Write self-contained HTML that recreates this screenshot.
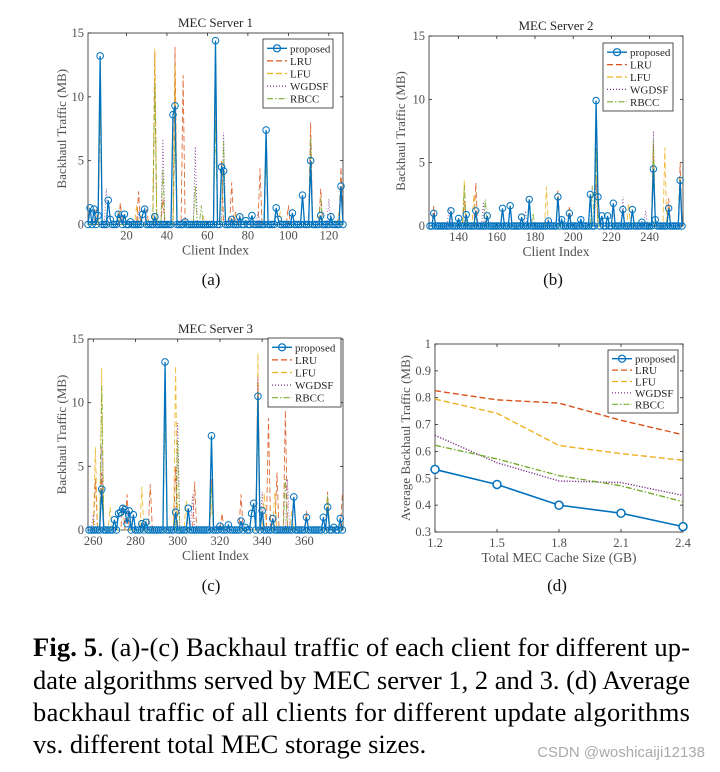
<!DOCTYPE html>
<html><head><meta charset="utf-8"><style>
html,body{margin:0;padding:0;background:#fff;}
svg{display:block;}
</style></head><body>
<svg id="fig" width="720" height="772" viewBox="0 0 720 772" xmlns="http://www.w3.org/2000/svg" font-family="'Liberation Serif', serif">
<text x="211" y="285" font-size="17" text-anchor="middle" fill="#111">(a)</text>
<text x="553" y="285" font-size="17" text-anchor="middle" fill="#111">(b)</text>
<text x="211" y="591" font-size="17" text-anchor="middle" fill="#111">(c)</text>
<text x="557" y="591" font-size="17" text-anchor="middle" fill="#111">(d)</text>
<g font-size="26.5" fill="#000">
<text x="33" y="656" textLength="657" lengthAdjust="spacing"><tspan font-weight="bold">Fig. 5</tspan>. (a)-(c) Backhaul traffic of each client for different up-</text>
<text x="33" y="689" textLength="657" lengthAdjust="spacing">date algorithms served by MEC server 1, 2 and 3. (d) Average</text>
<text x="33" y="721" textLength="657" lengthAdjust="spacing">backhaul traffic of all clients for different update algorithms</text>
<text x="33" y="753">vs. different total MEC storage sizes.</text>
</g>
<text x="705" y="757" font-size="15" text-anchor="end" fill="#aaa" font-family="'Liberation Sans', sans-serif">CSDN @woshicaiji12138</text>
</svg>
<script>
// ---- data: sparse spikes [clientIndex, MB] ----
const a_proposed = [[2,1.3],[4,1.2],[6,0.7],[7,13.2],[11,1.9],[12,0.4],[16,0.8],[17,0.5],[19,0.8],[22,0.2],[28,0.8],[29,1.2],[34,0.6],[43,8.6],[44,9.3],[49,0.2],[64,14.4],[67,4.5],[68,4.2],[72,0.4],[76,0.6],[79,0.3],[82,0.7],[89,7.4],[94,1.3],[95,0.4],[102,0.9],[107,2.3],[111,5.0],[116,0.7],[121,0.6],[126,3.0]];
const a_lru = [[5,1.2],[7,10],[17,1.7],[26,2.6],[30,1.2],[34,13.5],[38,2],[44,13.9],[48,11.7],[64,11.5],[67,5],[72,3.3],[74,1],[86,4.4],[89,6],[100,1.5],[111,8],[116,2.8],[126,4.5]];
const a_lfu = [[7,10],[16,1],[25,1.5],[34,13.8],[44,12.5],[58,0.6],[64,11.7],[74,0.8],[89,6.2],[96,1],[125,1]];
const a_wgdsf = [[10,2.8],[26,1],[38,6.7],[54,6.1],[68,7.2],[85,1],[111,6.5],[120,2]];
const a_rbcc = [[7,10.2],[34,11],[38,4.2],[44,7],[54,3],[57,1.5],[64,8],[68,6.5],[89,5.5],[111,6.8],[116,2]];

const b_proposed = [[127,1.0],[136,1.2],[140,0.6],[144,0.9],[149,1.2],[155,0.8],[163,1.4],[167,1.6],[173,0.7],[177,2.1],[187,0.4],[192,2.3],[194,0.5],[198,1.0],[204,0.5],[209,2.5],[212,9.9],[213,2.3],[215,0.8],[218,0.8],[221,1.8],[226,1.3],[231,1.3],[236,0.3],[242,4.5],[243,0.5],[250,1.4],[256,3.6]];
const b_lru = [[127,1.6],[143,2],[149,3.4],[192,2.8],[198,1.5],[212,7],[221,1.5],[242,6.5],[250,2.2],[256,5]];
const b_lfu = [[143,3.6],[148,2.5],[186,3.1],[212,4],[229,1.8],[242,6],[248,6.2],[256,4]];
const b_wgdsf = [[135,1.5],[153,1.9],[175,1.2],[212,3.3],[226,2.3],[238,1.2],[242,7.5],[256,3]];
const b_rbcc = [[143,3.2],[154,2.1],[179,1],[210,3.2],[212,6],[242,6.8],[256,3.5]];

const c_proposed = [[264,3.2],[270,0.8],[272,1.3],[273,1.4],[274,1.7],[275,1.6],[276,0.5],[277,1.5],[279,1.2],[283,0.5],[285,0.6],[294,13.2],[299,1.4],[305,1.7],[316,7.4],[320,0.3],[324,0.4],[330,0.7],[332,0.2],[335,1.3],[336,2.1],[338,10.5],[340,1.5],[345,0.9],[355,2.6],[361,1.0],[369,1.0],[371,1.8],[374,0.2],[377,0.9]];
const c_lru = [[261,4],[264,4.5],[274,2],[276,2.8],[287,3.6],[299,5],[308,3.8],[316,4],[321,1.3],[330,2.8],[338,11.5],[343,8.8],[347,4.5],[351,9.4],[361,1.5],[371,3],[378,2.8]];
const c_lfu = [[261,6.5],[264,12.7],[268,1.8],[283,3.4],[299,12.9],[304,2.3],[316,2],[338,13.9],[341,2.9],[346,3],[354,1.5],[371,2.5]];
const c_wgdsf = [[260,1.2],[264,6.6],[300,8.4],[307,2.8],[338,12],[340,3],[352,4]];
const c_rbcc = [[264,11.3],[294,9],[300,7],[316,3.5],[338,9.5],[351,4],[371,2.7]];

const d_sizes = [1.2,1.5,1.8,2.1,2.4];
const d_proposed = [0.533,0.477,0.400,0.370,0.320];
const d_lru = [0.826,0.792,0.780,0.716,0.662];
const d_lfu = [0.795,0.742,0.622,0.592,0.567];
const d_wgdsf = [0.660,0.558,0.490,0.484,0.436];
const d_rbcc = [0.623,0.572,0.510,0.472,0.413];

const abcYTicks = [0,5,10,15];
const aXTicks = [20,40,60,80,100,120];
const bXTicks = [140,160,180,200,220,240];
const cXTicks = [260,280,300,320,340,360];
const dYTicks = [0.3,0.4,0.5,0.6,0.7,0.8,0.9,1];
const dYLabels = ["0.3","0.4","0.5","0.6","0.7","0.8","0.9","1"];
const dXTicks = [1.2,1.5,1.8,2.1,2.4];
const legendNames = ["proposed","LRU","LFU","WGDSF","RBCC"];

// ---- styles ----
const NS = "http://www.w3.org/2000/svg";
const svg = document.getElementById("fig");
const COL = ["#0072BD","#D95319","#EDB120","#7E2F8E","#77AC30"];
const DASH = [null,"6,3","6,3","1,2","6,2,1.5,2"];
const KEYS = ["proposed","lru","lfu","wgdsf","rbcc"];

function mk(tag, attrs, parent){
  const e = document.createElementNS(NS, tag);
  for (const k in attrs) e.setAttribute(k, attrs[k]);
  (parent||svg).appendChild(e);
  return e;
}
function dense(sparse, lo, hi){
  const m = {}; sparse.forEach(p => m[p[0]] = p[1]);
  const out = [];
  for (let i = lo; i <= hi; i++) out.push([i, m[i] || 0]);
  return out;
}

function axes(g, P, xTicks, xLabels, yTicks, yLabels){
  const frame = mk("rect",{x:P.x0,y:P.y0,width:P.x1-P.x0,height:P.y1-P.y0,fill:"#fff",stroke:"#262626","stroke-width":0.8},g);
  
  
  xTicks.forEach((t,i) => {
    const x = P.sx(t);
    mk("line",{x1:x,x2:x,y1:P.y1,y2:P.y1-3,stroke:"#262626","stroke-width":0.8},g);
    mk("line",{x1:x,x2:x,y1:P.y0,y2:P.y0+3,stroke:"#262626","stroke-width":0.8},g);
    const tl = mk("text",{x:x,y:P.y1+15,"font-size":12.5,"text-anchor":"middle",fill:"#505050"},g);
    tl.textContent = xLabels[i];
    
    
  });
  yTicks.forEach((t,i) => {
    const y = P.sy(t);
    mk("line",{x1:P.x0,x2:P.x0+3,y1:y,y2:y,stroke:"#262626","stroke-width":0.8},g);
    mk("line",{x1:P.x1,x2:P.x1-3,y1:y,y2:y,stroke:"#262626","stroke-width":0.8},g);
    const tl = mk("text",{x:P.x0-4,y:y+4,"font-size":12.5,"text-anchor":"end",fill:"#505050"},g);
    tl.textContent = yLabels[i];
    
    
  });
}

function labels(g, P, title, xl, yl, ylx){
  if (title){
    const t = mk("text",{x:(P.x0+P.x1)/2,y:P.y0-6,"font-size":13,"text-anchor":"middle",fill:"#262626"},g);
    t.textContent = title;
    
    
  }
  const x = mk("text",{x:(P.x0+P.x1)/2,y:P.y1+30,"font-size":13.5,"text-anchor":"middle",fill:"#505050"},g);
  x.textContent = xl;
  
  
  const cy = (P.y0+P.y1)/2;
  const y = mk("text",{x:ylx,y:cy,"font-size":13,"text-anchor":"middle",fill:"#505050",transform:`rotate(-90 ${ylx} ${cy})`},g);
  y.textContent = yl;
  
  
}

function legend(g, L){
  const box = mk("rect",{x:L.x,y:L.y,width:L.w,height:L.h,fill:"#fff",stroke:"#262626","stroke-width":0.8},g);
  
  
  const step = (L.h-6)/5;
  legendNames.forEach((n,i) => {
    const yy = L.y + 3 + step*(i+0.5);
    const ln = mk("line",{x1:L.x+4,x2:L.x+24,y1:yy,y2:yy,stroke:COL[i],"stroke-width":i==0?1.4:1.2},g);
    if (DASH[i]) ln.setAttribute("stroke-dasharray",DASH[i]);
    
    
    if (i==0){
      const c = mk("circle",{cx:L.x+14,cy:yy,r:3.5,fill:"none",stroke:COL[0],"stroke-width":1.2},g);
      
      
    }
    const t = mk("text",{x:L.x+27,y:yy+4,"font-size":11,fill:"#262626"},g);
    t.textContent = n;
    
    
  });
}

function spikePanel(name, P, lo, hi, series, xTicks, title, ylx, L, mr){
  const g = mk("g",{});
  
  
  axes(g, P, xTicks, xTicks.map(String), abcYTicks, abcYTicks.map(String));
  const order = [1,2,3,4,0];
  order.forEach(si => {
    const pts = dense(series[si], lo, hi);
    const d = pts.map((p,k) => (k?"L":"M")+P.sx(p[0]).toFixed(2)+","+P.sy(p[1]).toFixed(2)).join("");
    const path = mk("path",{d:d,fill:"none",stroke:COL[si],"stroke-width":si==0?1.3:0.9,"stroke-opacity":si==0?1:0.85},g);
    if (DASH[si]) path.setAttribute("stroke-dasharray",DASH[si]);
    
    
    if (si==0){
      pts.forEach(p => {
        const c = mk("circle",{cx:P.sx(p[0]),cy:P.sy(p[1]),r:mr,fill:"none",stroke:COL[0],"stroke-width":1},g);
        
        
      });
    }
  });
  labels(g, P, title, "Client Index", "Backhaul Traffic (MB)", ylx);
  legend(g, L);
}

function mkP(x0,x1,y0,y1,xd0,xd1,yd0,yd1){
  return {x0,x1,y0,y1,
    sx:v=>x0+(v-xd0)/(xd1-xd0)*(x1-x0),
    sy:v=>y1-(v-yd0)/(yd1-yd0)*(y1-y0)};
}

spikePanel("panel-a", mkP(88,343,33,224.5,1,127,0,15), 1,127,
  [a_proposed,a_lru,a_lfu,a_wgdsf,a_rbcc], aXTicks, "MEC Server 1", 66, {x:263,y:39,w:70,h:69}, 3.3);
spikePanel("panel-b", mkP(429,683,36,226,124.5,257.5,0,15), 125,257,
  [b_proposed,b_lru,b_lfu,b_wgdsf,b_rbcc], bXTicks, "MEC Server 2", 405, {x:603,y:43,w:70,h:68}, 3.2);
spikePanel("panel-c", mkP(88,343,339,530,257.5,378.3,0,15), 258,378,
  [c_proposed,c_lru,c_lfu,c_wgdsf,c_rbcc], cXTicks, "MEC Server 3", 66, {x:268,y:338,w:73,h:69}, 3.3);

// panel d
(function(){
  const P = mkP(435,683,344,532,1.2,2.4,0.3,1);
  const g = mk("g",{});
  
  
  axes(g, P, dXTicks, dXTicks.map(v=>v.toFixed(1)), dYTicks, dYLabels);
  const S = [d_proposed,d_lru,d_lfu,d_wgdsf,d_rbcc];
  [1,2,3,4,0].forEach(si => {
    const d = S[si].map((v,k) => (k?"L":"M")+P.sx(d_sizes[k]).toFixed(2)+","+P.sy(v).toFixed(2)).join("");
    const path = mk("path",{d:d,fill:"none",stroke:COL[si],"stroke-width":si==0?1.6:1.4},g);
    if (DASH[si]) path.setAttribute("stroke-dasharray",si==3?"1.2,1.6":DASH[si]);
    
    
    if (si==0){
      S[0].forEach((v,k) => {
        const c = mk("circle",{cx:P.sx(d_sizes[k]),cy:P.sy(v),r:4,fill:"#fff",stroke:COL[0],"stroke-width":1.5},g);
        
        
      });
    }
  });
  labels(g, P, null, "Total MEC Cache Size (GB)", "Average Backhaul Traffic (MB)", 410);
  legend(g, {x:608,y:350,w:70,h:63});
})();
</script>
</body></html>
